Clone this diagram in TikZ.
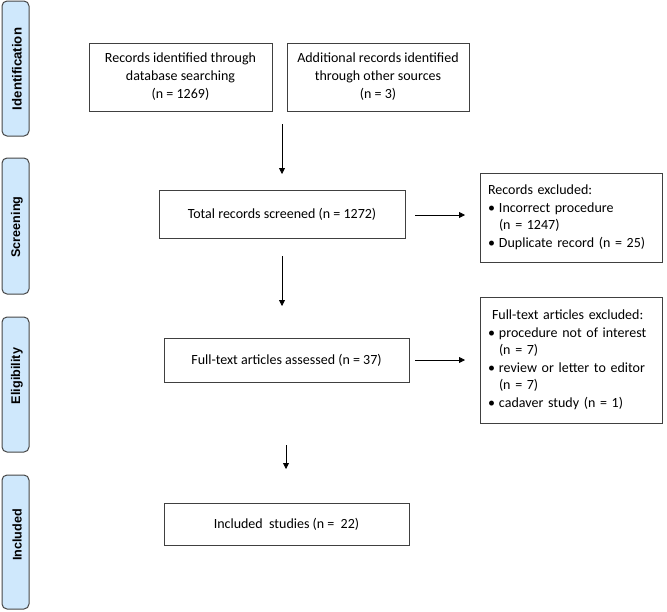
\documentclass[tikz,border=0pt]{standalone}
\usepackage{fontspec}
\setmainfont{Carlito}
\newfontfamily\bandfont{Liberation Sans}
\usetikzlibrary{arrows.meta}
\definecolor{bandfill}{RGB}{207,232,252}
\definecolor{bandline}{RGB}{70,70,70}
\newcommand{\bul}{\makebox[11pt][l]{\textbullet}}
\begin{document}
\begin{tikzpicture}[x=1pt,y=-1pt,
 box/.style={draw=black!75, line width=0.9pt, inner sep=0pt, align=center, font=\fontsize{14}{18}\selectfont},
 exbox/.style={draw=black!75, line width=0.9pt, inner xsep=8pt, inner ysep=0pt, align=left, text width=166pt, font=\fontsize{14}{17.5}\selectfont},
 band/.style={draw=bandline, fill=bandfill, rounded corners=5pt, line width=1pt, inner sep=0pt},
 bandlabel/.style={rotate=90, inner sep=0pt, font=\bandfont\bfseries\fontsize{#1}{16}\selectfont},
 arr/.style={-{Triangle[length=6pt,width=6pt]}, line width=0.8pt}]
\useasboundingbox (0,0) rectangle (667,611);
% phase bands
\node[band, minimum width=27pt, minimum height=135pt] (b1) at (15.5,68.5) {};
\node[bandlabel=13.2] (l1) at (17,69) {Identification};
\node[band, minimum width=27pt, minimum height=136pt] (b2) at (15.5,226) {};
\node[bandlabel=12.6] (l2) at (17,227) {Screening};
\node[band, minimum width=27pt, minimum height=135pt] (b3) at (15.5,384.5) {};
\node[bandlabel=12.6] (l3) at (17,376) {Eligibility};
\node[band, minimum width=27pt, minimum height=134pt] (b4) at (15.5,542) {};
\node[bandlabel=12.6] (l4) at (17,535) {Included};
% boxes
\node[box, minimum width=183pt, minimum height=68pt] (rec) at (180.5,77) {Records identified through\\database searching\\(n = 1269)};
\node[box, minimum width=182pt, minimum height=68pt] (add) at (378,77) {Additional records identified\\through other sources\\(n = 3)};
\node[box, minimum width=246pt, minimum height=48pt] (tot) at (282,214) {Total records screened (n = 1272)};
\node[exbox, minimum height=89pt] (ex1) at (571,217.5) {Records excluded:\\
\bul Incorrect procedure\\
\hspace*{11pt}(n = 1247)\\
\bul Duplicate record (n = 25)};
\node[box, minimum width=245pt, minimum height=44pt] (full) at (286.5,360) {Full-text articles assessed (n = 37)};
\node[exbox, minimum height=126pt] (ex2) at (571,360) {\hspace*{4pt}Full-text articles excluded:\\
\bul procedure not of interest\\
\hspace*{11pt}(n = 7)\\
\bul review or letter to editor\\
\hspace*{11pt}(n = 7)\\
\bul cadaver study (n = 1)};
\node[box, minimum width=245pt, minimum height=42pt] (inc) at (286.5,524) {Included\ \ studies (n =\ \ 22)};
% arrow end points
\coordinate (a1s) at (282,124);
\coordinate (a1e) at (282,174);
\coordinate (a2s) at (282,256);
\coordinate (a2e) at (282,306);
\coordinate (a3s) at (286,445);
\coordinate (a3e) at (286,469);
\coordinate (h1s) at (415,215);
\coordinate (h1e) at (465,215);
\coordinate (h2s) at (415,360);
\coordinate (h2e) at (465,360);
\draw[arr] (a1s) -- (a1e);
\draw[arr] (a2s) -- (a2e);
\draw[arr] (a3s) -- (a3e);
\draw[arr] (h1s) -- (h1e);
\draw[arr] (h2s) -- (h2e);
\end{tikzpicture}
\end{document}
